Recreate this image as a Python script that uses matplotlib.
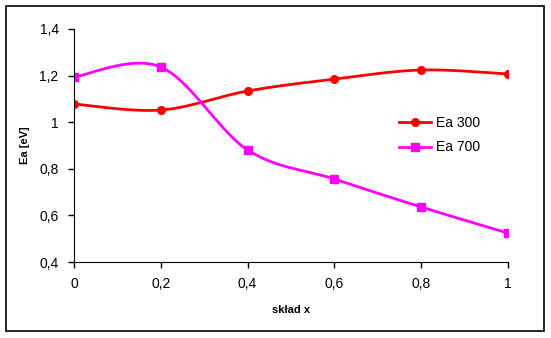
import matplotlib.pyplot as plt
import numpy as np
from matplotlib.patches import Rectangle

plt.rcParams['font.family'] = ['Liberation Sans', 'DejaVu Sans']

x = [0, 0.2, 0.4, 0.6, 0.8, 1.0]
ea300 = [1.078, 1.052, 1.134, 1.185, 1.224, 1.207]
ea700 = [1.194, 1.237, 0.881, 0.756, 0.636, 0.524]
xticks = [0, 0.2, 0.4, 0.6, 0.8, 1.0]
yticks = [0.4, 0.6, 0.8, 1.0, 1.2, 1.4]


def smooth(xs, ys, n=30):
    # Bezier segments with Catmull-Rom style control points (tension 1/6)
    xs = np.asarray(xs, float)
    ys = np.asarray(ys, float)
    px = np.concatenate([[xs[0]], xs, [xs[-1]]])
    py = np.concatenate([[ys[0]], ys, [ys[-1]]])
    outx, outy = [], []
    t = np.linspace(0, 1, n)
    for i in range(1, len(xs)):
        p0 = np.array([px[i], py[i]])
        p3 = np.array([px[i + 1], py[i + 1]])
        c1 = p0 + (np.array([px[i + 1], py[i + 1]]) - np.array([px[i - 1], py[i - 1]])) / 6
        c2 = p3 - (np.array([px[i + 2], py[i + 2]]) - np.array([px[i], py[i]])) / 6
        b = ((1 - t) ** 3)[:, None] * p0 + (3 * (1 - t) ** 2 * t)[:, None] * c1 \
            + (3 * (1 - t) * t ** 2)[:, None] * c2 + (t ** 3)[:, None] * p3
        outx.extend(b[:, 0])
        outy.extend(b[:, 1])
    return outx, outy


fig = plt.figure(figsize=(5.51, 3.38), dpi=100)
fig.patches.append(Rectangle((6 / 551, 7 / 338), 538 / 551, 325 / 338, transform=fig.transFigure,
                             fill=False, edgecolor='black', linewidth=1.2))
ax = fig.add_axes([74 / 551, 76 / 338, 434 / 551, 233 / 338])

sx, sy = smooth(x, ea300)
ax.plot(sx, sy, color='#ff0000', linewidth=2)
ax.plot(x, ea300, 'o', color='#ff0000', markersize=5.5)
sx, sy = smooth(x, ea700)
ax.plot(sx, sy, color='#ff00ff', linewidth=2)
ax.plot(x, ea700, 's', color='#ff00ff', markersize=5.5)

ax.plot([], [], color='#ff0000', linewidth=2, marker='o', markersize=5.5, label='Ea 300')
ax.plot([], [], color='#ff00ff', linewidth=2, marker='s', markersize=5.5, label='Ea 700')
h, l = ax.get_legend_handles_labels()
ax.legend(h[-2:], l[-2:], frameon=False, loc='upper left', bbox_to_anchor=(0.72, 0.68),
          fontsize=10, handlelength=2.3, handletextpad=0.4, labelspacing=0.75)

ax.set_xlim(0, 1)
ax.set_ylim(0.4, 1.4)
ax.set_xticks(xticks)
ax.set_yticks(yticks)
ax.set_xticklabels([f'{v:g}'.replace('.', ',') for v in xticks])
ax.set_yticklabels([f'{v:g}'.replace('.', ',') for v in yticks])
ax.tick_params(direction='out', length=4, width=1, labelsize=10, pad=7)
ax.spines['top'].set_visible(False)
ax.spines['right'].set_visible(False)
ax.set_xlabel('skład x', fontweight='bold', fontsize=8, labelpad=10)
ax.set_ylabel('Ea [eV]', fontweight='bold', fontsize=8, labelpad=7)

fig.savefig('out.png', dpi=100)
